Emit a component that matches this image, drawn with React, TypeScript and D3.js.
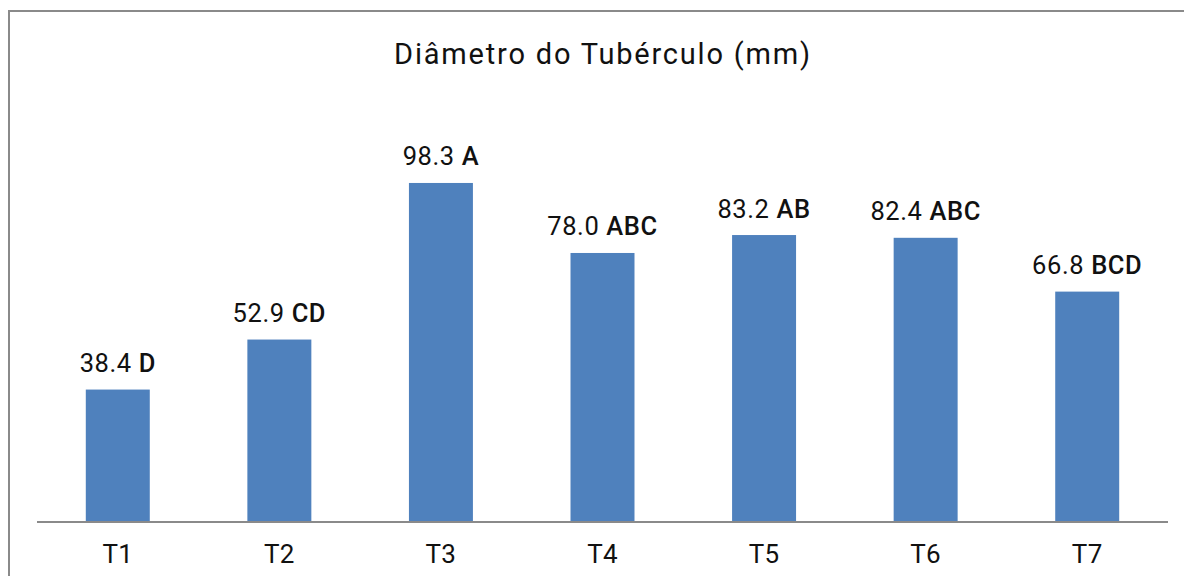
import React from "react";
import * as d3 from "d3";

const categories = ["T1", "T2", "T3", "T4", "T5", "T6", "T7"];
const values = [38.4, 52.9, 98.3, 78.0, 83.2, 82.4, 66.8];
const letters = ["D", "CD", "A", "ABC", "AB", "ABC", "BCD"];
const title = "Diâmetro do Tubérculo (mm)";

export default function App() {
  const W = 1184, H = 576;
  const x = d3.scaleBand<string>().domain(categories).range([37, 1168]).paddingInner(0.604).paddingOuter(0.302);
  const y = d3.scaleLinear().domain([0, 100]).range([522, 177.1]);
  const font = "Roboto, 'Noto Sans', sans-serif";
  return (
    <svg width={W} height={H} style={{ position: "absolute", left: 0, top: 0 }} fontFamily={font}>
      <rect x={0} y={0} width={W} height={H} fill="#fff" />
      <path d="M9,576 V11 H1184" fill="none" stroke="#8a8a8a" strokeWidth={2} />
      <text x={603} y={63.5} textAnchor="middle" fontSize={29} letterSpacing={1.8} fill="#111">{title}</text>
      {categories.map((c, i) => (
        <g key={c}>
          <rect x={x(c)} y={y(values[i])} width={x.bandwidth()} height={y(0) - y(values[i])} fill="#4F81BD" />
          <text x={x(c)! + x.bandwidth() / 2} y={y(values[i]) - 17.5} textAnchor="middle" fontSize={25.5} letterSpacing={0.6} fill="#111">
            {values[i].toFixed(1)} <tspan fontWeight={500}>{letters[i]}</tspan>
          </text>
          <text x={x(c)! + x.bandwidth() / 2} y={563} textAnchor="middle" fontSize={26} letterSpacing={0.3} fill="#111">{c}</text>
        </g>
      ))}
      <line x1={37} x2={1168} y1={522} y2={522} stroke="#8a8a8a" strokeWidth={2} />
    </svg>
  );
}
